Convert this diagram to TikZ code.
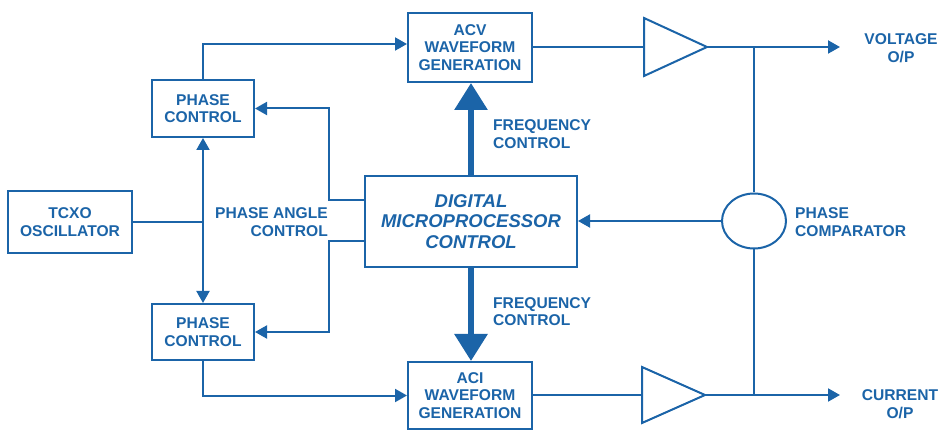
\documentclass[tikz,border=0pt]{standalone}
\usepackage{fontspec}
\setmainfont{Liberation Sans}
\usetikzlibrary{arrows.meta,shapes.geometric}
\definecolor{adblue}{HTML}{1B64A8}

\begin{document}
\begin{tikzpicture}[
    x=1pt, y=-1pt,
    block/.style={
        draw=adblue,
        line width=2pt,
        text=adblue,
        font=\fontsize{15.6}{17.5}\selectfont\bfseries,
        align=center,
        inner sep=0pt,
    },
    lbl/.style={
        text=adblue,
        font=\fontsize{15.6}{17.5}\selectfont\bfseries,
        inner sep=0pt,
    },
    wire/.style={draw=adblue, line width=2pt, line join=miter},
    arr/.style={wire, -{Triangle[length=12pt,width=13pt]}},
    bus/.style={draw=adblue, line width=6pt, -{Triangle[length=27pt,width=32pt]}},
]

\path[use as bounding box, fill=white] (0,0) rectangle (940,430);

% Blocks
\node[block, minimum width=124pt, minimum height=62pt] (tcxo) at (70,222) {TCXO\\OSCILLATOR};
\node[block, minimum width=102pt, minimum height=57pt] (pcup) at (203,108.5) {PHASE\\CONTROL};
\node[block, minimum width=102pt, minimum height=56pt] (pclow) at (203,332) {PHASE\\CONTROL};
\node[block, minimum width=124pt, minimum height=69pt] (acv) at (470,47.5) {ACV\\WAVEFORM\\GENERATION};
\node[block, minimum width=124pt, minimum height=67pt] (aci) at (470,395.5) {ACI\\WAVEFORM\\GENERATION};
\node[block, minimum width=212pt, minimum height=91pt,
      font=\fontsize{18.5}{20.5}\selectfont\bfseries\itshape] (mpu) at (471,221.5)
      {DIGITAL\\MICROPROCESSOR\\CONTROL};
\node[block, ellipse, minimum width=64pt, minimum height=55pt] (comp) at (754,221) {};

% Amplifiers
\coordinate (ampvin) at (644,47);
\coordinate (ampvout) at (707,47);
\coordinate (ampiin) at (642,395);
\coordinate (ampiout) at (705,395);
\draw[wire] (644,18) -- (ampvout) -- (644,76) -- cycle;
\draw[wire] (642,367) -- (ampiout) -- (642,423) -- cycle;

% Labels
\node[lbl, align=left, anchor=west] (fcup) at (493,134) {FREQUENCY\\CONTROL};
\node[lbl, align=left, anchor=west] (fclow) at (493,311.5) {FREQUENCY\\CONTROL};
\node[lbl, align=right, anchor=east] (pac) at (328,222) {PHASE ANGLE\\CONTROL};
\node[lbl, align=left, anchor=west] (pcmp) at (795,222) {PHASE\\COMPARATOR};
\node[lbl, align=center] (voutlbl) at (901,48) {VOLTAGE\\O/P};
\node[lbl, align=center] (ioutlbl) at (900,404) {CURRENT\\O/P};

% Reference distribution
\coordinate (jn) at (pcup.south |- tcxo.east);
\draw[wire] (tcxo.east) -- (jn);
\draw[arr] (jn) -- (pcup.south);
\draw[arr] (jn) -- (pclow.north);
\draw[arr] (pcup.north) |- ([yshift=3.5pt]acv.west);
\draw[arr] (pclow.south) |- (aci.west);

% Phase angle control
\draw[arr] ([yshift=21pt]mpu.west) -- ++(-35,0) |- (pcup.east);
\draw[arr] ([yshift=-19.5pt]mpu.west) -- ++(-35,0) |- (pclow.east);

% Frequency control
\draw[bus] (mpu.north) -- (mpu.north |- acv.south);
\draw[bus] (mpu.south) -- (mpu.south |- aci.north);

% Outputs
\coordinate (busv) at (754,47);
\coordinate (busi) at (754,395);
\coordinate (vout) at (840,47);
\coordinate (iout) at (840,395);
\draw[wire] (acv.east |- ampvin) -- (ampvin);
\draw[wire] (aci.east |- ampiin) -- (ampiin);
\draw[arr] (ampvout) -- (vout);
\draw[arr] (ampiout) -- (iout);
\draw[wire] (busv) -- (comp.north);
\draw[wire] (comp.south) -- (busi);
\draw[arr] (comp.west) -- (comp.west -| mpu.east);

\end{tikzpicture}
\end{document}
